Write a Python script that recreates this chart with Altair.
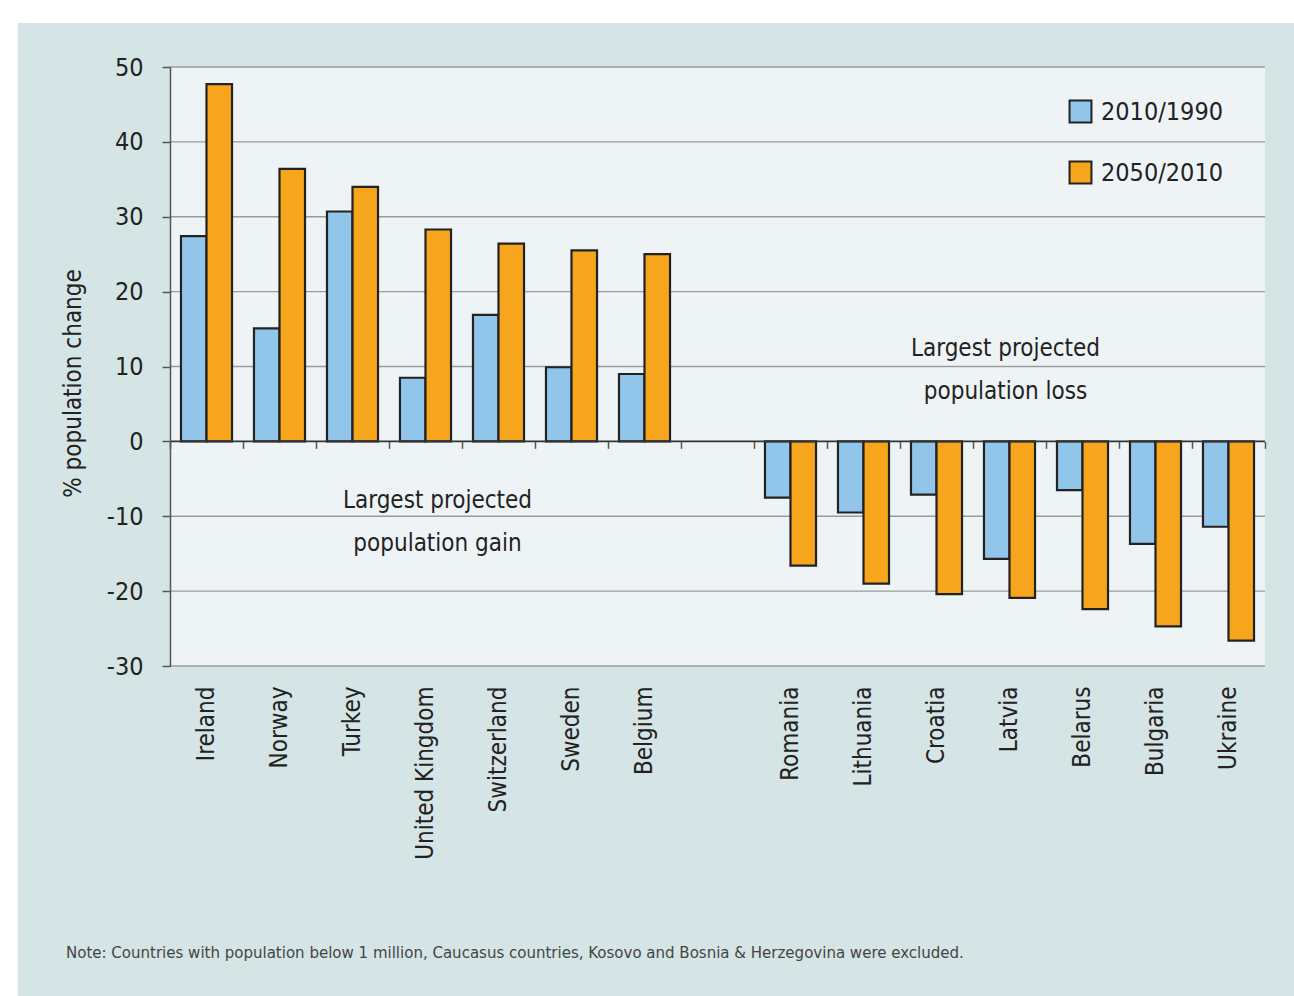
import altair as alt
import pandas as pd

countries = ["Ireland", "Norway", "Turkey", "United Kingdom", "Switzerland", "Sweden", "Belgium",
             "Romania", "Lithuania", "Croatia", "Latvia", "Belarus", "Bulgaria", "Ukraine"]
domain = countries[:7] + [" "] + countries[7:]
series = ["2010/1990", "2050/2010"]
change_2010_1990 = [27.4, 15.1, 30.7, 8.5, 16.9, 9.9, 9.0, -7.5, -9.5, -7.1, -15.7, -6.5, -13.7, -11.4]
change_2050_2010 = [47.7, 36.4, 34.0, 28.3, 26.4, 25.5, 25.0, -16.6, -19.0, -20.4, -20.9, -22.4, -24.7, -26.6]
y_ticks = [-30, -20, -10, 0, 10, 20, 30, 40, 50]
note = "Note: Countries with population below 1 million, Caucasus countries, Kosovo and Bosnia & Herzegovina were excluded."
ann_gain = "Largest projected\npopulation gain"
ann_loss = "Largest projected\npopulation loss"

rows = []
for i, c in enumerate(countries):
    rows.append({"country": c, "series": series[0], "value": change_2010_1990[i]})
    rows.append({"country": c, "series": series[1], "value": change_2050_2010[i]})
df = pd.DataFrame(rows)

FONT = "DejaVu Sans Condensed, sans-serif"
W, H = 1095, 599
PANEL = "#d5e5e6"
YMIN, YMAX = -30, 50

xscale = alt.Scale(domain=domain, paddingInner=0, paddingOuter=0)
yscale = alt.Scale(domain=[YMIN, YMAX], nice=False)

yaxis = alt.Axis(title="% population change", values=y_ticks, labelExpr="datum.value + ''",
                 titleFont=FONT, titleFontSize=24, titleFontWeight="normal",
                 titleColor="#222222", titlePadding=21, titleY=316,
                 labelFont=FONT, labelFontSize=25,
                 labelColor="#222222", labelPadding=19, tickSize=8, tickColor="#555555",
                 tickWidth=1.5, domainColor="#555555", domainWidth=1.5, grid=False,
                 zindex=1)

panel = alt.Chart(pd.DataFrame({"a": [0]})).mark_rect(color=PANEL).encode(
    x=alt.value(18 - 170), x2=alt.value(1294 - 170), y=alt.value(23 - 67), y2=alt.value(996 - 67)
)
plotbg = alt.Chart(pd.DataFrame({"a": [0]})).mark_rect(color="#eef4f6").encode(
    x=alt.value(0), x2=alt.value(W), y=alt.value(0), y2=alt.value(H)
)

grid = alt.Chart(pd.DataFrame({"v": [t for t in y_ticks if t != 0]})).mark_rule(
    color="#9a9a9a", strokeWidth=1.4
).encode(y=alt.Y("v:Q", scale=yscale, axis=yaxis))

bars = alt.Chart(df).mark_bar(stroke="#222222", strokeWidth=2.2).encode(
    x=alt.X("country:N", scale=xscale, sort=domain,
            axis=alt.Axis(title=None, labelAngle=-90, labelFont=FONT, labelFontSize=24,
                          labelColor="#222222", labelPadding=20, ticks=False, domain=False,
                          grid=False, zindex=1)),
    xOffset=alt.XOffset("series:N", sort=series, scale=alt.Scale(paddingInner=0, paddingOuter=0.43)),
    y=alt.Y("value:Q", scale=yscale, axis=yaxis),
    color=alt.Color("series:N", sort=series,
                    scale=alt.Scale(domain=series, range=["#92c5ea", "#f7a51c"]),
                    legend=alt.Legend(title=None, orient="none", legendX=898, legendY=32,
                                      symbolType="square", symbolSize=480,
                                      symbolStrokeColor="#222222", symbolStrokeWidth=2,
                                      labelFont=FONT, labelFontSize=25, labelColor="#222222",
                                      rowPadding=30, labelOffset=8)),
)

zero = alt.Chart(pd.DataFrame({"v": [0]})).mark_rule(color="#333333", strokeWidth=1.8).encode(
    y=alt.Y("v:Q", scale=yscale, axis=yaxis)
)

zero_offset = -(0 - YMIN) / (YMAX - YMIN) * H
tick_layer = alt.Chart(pd.DataFrame({"country": domain})).mark_point(opacity=0).encode(
    x=alt.X("country:N", scale=xscale, sort=domain,
            axis=alt.Axis(orient="bottom", offset=zero_offset, labels=False, title=None,
                          tickBand="extent", tickSize=7, tickColor="#555555", tickWidth=1.5,
                          domain=False, grid=False, zindex=1))
)


def annotation(country, value, label, dx):
    d = pd.DataFrame({"country": [country], "value": [value], "label": [label]})
    return alt.Chart(d).mark_text(font=FONT, fontSize=24, color="#222222", lineBreak="\n",
                                  lineHeight=43, dx=dx, align="center", baseline="middle").encode(
        x=alt.X("country:N", scale=xscale, sort=domain, axis=None),
        y=alt.Y("value:Q", scale=yscale, axis=yaxis),
        text="label:N",
    )


annot_gain = annotation("United Kingdom", -7.9, ann_gain, 12)
annot_loss = annotation("Latvia", 12.4, ann_loss, -4)

note_t = alt.Chart(pd.DataFrame({"t": [note]})).mark_text(
    font=FONT, fontSize=16.7, color="#444444", align="left", baseline="middle"
).encode(x=alt.value(66 - 170), y=alt.value(953 - 67), text="t:N")

chart = alt.layer(panel, plotbg, grid, bars, zero, tick_layer, annot_gain, annot_loss, note_t).resolve_axis(
    x="independent"
).properties(
    width=W, height=H,
    autosize=alt.AutoSizeParams(type="none"),
    padding={"left": 170, "top": 67, "right": 29, "bottom": 330},
    background="white",
).configure_view(stroke=None)

chart.save("out.html", embed_options={"renderer": "svg", "actions": False})
